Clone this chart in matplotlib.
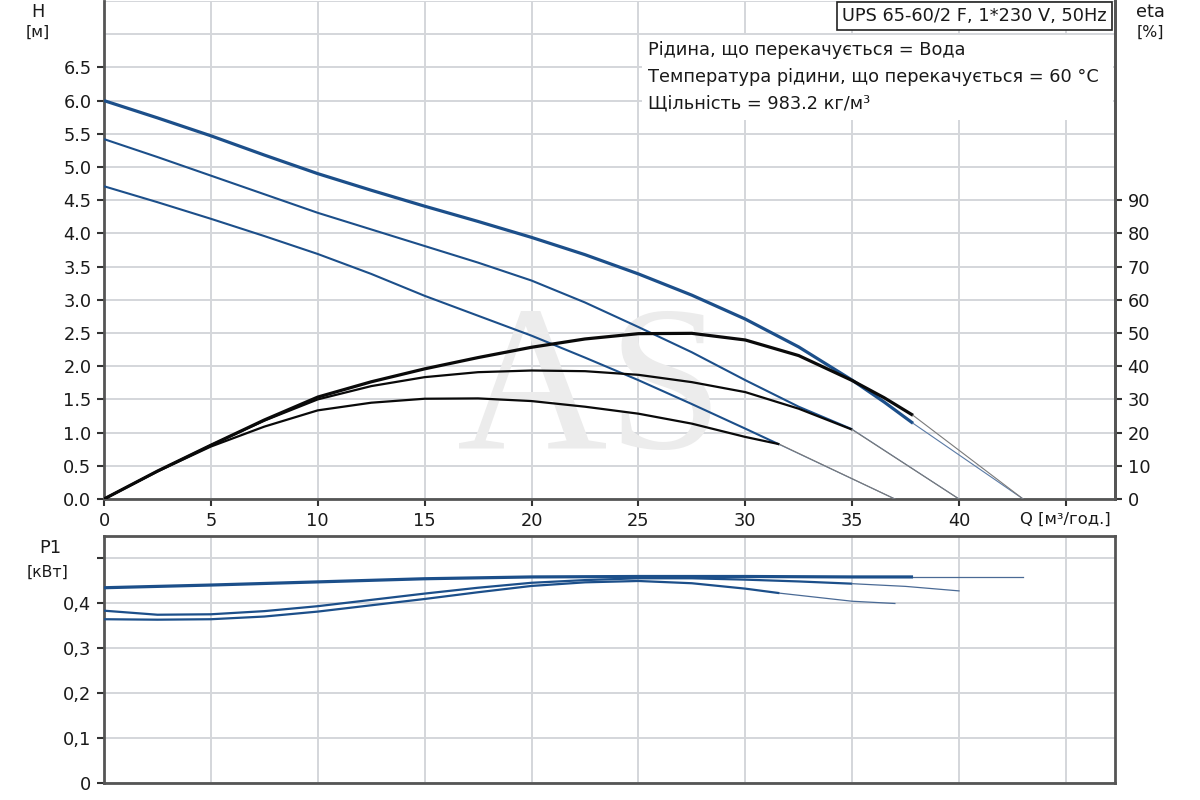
import matplotlib
matplotlib.use("Agg")
import matplotlib.pyplot as plt
from matplotlib.patches import Rectangle

plt.rcParams['font.family'] = ['DejaVu Sans']

# ---- data ----
q_h1 = [0, 2.5, 5, 7.5, 10, 12.5, 15, 17.5, 20, 22.5, 25, 27.5, 30, 32.5, 35, 36.5, 37.85]
h1 = [6.0, 5.74, 5.47, 5.18, 4.90, 4.65, 4.41, 4.18, 3.94, 3.68, 3.39, 3.07, 2.71, 2.29, 1.79, 1.46, 1.14]
q_h2 = [0, 2.5, 5, 7.5, 10, 12.5, 15, 17.5, 20, 22.5, 25, 27.5, 30, 32.5, 35]
h2 = [5.42, 5.15, 4.87, 4.59, 4.31, 4.06, 3.81, 3.56, 3.29, 2.96, 2.59, 2.21, 1.79, 1.39, 1.05]
q_h3 = [0, 2.5, 5, 7.5, 10, 12.5, 15, 17.5, 20, 22.5, 25, 27.5, 30, 31.6]
h3 = [4.71, 4.47, 4.22, 3.96, 3.69, 3.39, 3.06, 2.76, 2.46, 2.13, 1.79, 1.43, 1.06, 0.82]

eta1 = [0, 8.4, 16.2, 23.8, 30.7, 35.3, 39.2, 42.6, 45.7, 48.2, 49.8, 49.9, 47.9, 43.2, 35.7, 30.5, 25.2]
eta2 = [0, 8.4, 16.2, 23.6, 30.0, 34.0, 36.7, 38.2, 38.7, 38.5, 37.4, 35.2, 32.2, 27.2, 20.9]
eta3 = [0, 8.3, 15.8, 21.8, 26.7, 29.0, 30.2, 30.3, 29.5, 27.8, 25.7, 22.7, 18.7, 16.5]

# end of the operating range -> zero head / zero efficiency
q_zero = [43.0, 40.0, 37.0]

# P1 (power)
q_p1 = [0, 5, 10, 15, 20, 25, 30, 35, 37.85]
p1 = [0.434, 0.440, 0.447, 0.454, 0.458, 0.459, 0.459, 0.458, 0.458]
q_p2 = [0, 2.5, 5, 7.5, 10, 12.5, 15, 17.5, 20, 22.5, 25, 27.5, 30, 32.5, 35]
p2 = [0.383, 0.374, 0.375, 0.382, 0.393, 0.407, 0.421, 0.434, 0.445, 0.451, 0.455, 0.455, 0.452, 0.448, 0.443]
q_p3 = [0, 2.5, 5, 7.5, 10, 12.5, 15, 17.5, 20, 22.5, 25, 27.5, 30, 31.6]
p3 = [0.364, 0.363, 0.364, 0.370, 0.381, 0.395, 0.409, 0.424, 0.438, 0.446, 0.449, 0.444, 0.432, 0.422]
q_p1_ext = [37.85, 43.0]
p1_ext = [0.458, 0.458]
q_p2_ext = [35, 37.5, 40]
p2_ext = [0.443, 0.437, 0.427]
q_p3_ext = [31.6, 35, 37]
p3_ext = [0.422, 0.404, 0.399]

x_ticks = [0, 5, 10, 15, 20, 25, 30, 35, 40, 45]
x_labels = ['0', '5', '10', '15', '20', '25', '30', '35', '40', 'Q [м³/год.]']
h_ticks = [0, 0.5, 1.0, 1.5, 2.0, 2.5, 3.0, 3.5, 4.0, 4.5, 5.0, 5.5, 6.0, 6.5]
eta_ticks = [0, 10, 20, 30, 40, 50, 60, 70, 80, 90]
p_ticks = [0, 0.1, 0.2, 0.3, 0.4, 0.5]
p_labels = ['0', '0,1', '0,2', '0,3', '0,4', '']

info_lines = ['Рідина, що перекачується = Вода',
              'Температура рідини, що перекачується = 60 °C',
              'Щільність = 983.2 кг/м³']
title = 'UPS 65-60/2 F, 1*230 V, 50Hz'

BLUE = '#1c4f8a'
GRID = '#d4d6da'
SPINE = '#555555'
FS = 12.8
TXT = '#1a1a1a'

W, H = 1200, 800
fig = plt.figure(figsize=(12, 8), dpi=100)
fig.patch.set_facecolor('white')

x0, x1 = 104, 1115
ax = fig.add_axes([x0 / W, 1 - 499 / H, (x1 - x0) / W, 498 / H])
axb = fig.add_axes([x0 / W, 1 - 783 / H, (x1 - x0) / W, (783 - 536) / H])

xmax = (x1 - x0) / 21.375

# ---- top panel ----
ax.set_xlim(0, xmax)
ax.set_ylim(0, 7.5)
ax.set_xticks(x_ticks)
ax.set_xticklabels(x_labels)
ax.set_yticks(h_ticks)
ax.set_yticklabels([f'{v:.1f}' for v in h_ticks])
ax.grid(True, color=GRID, lw=1.4)
for yy in (7.0, 7.5):
    ax.axhline(yy, color=GRID, lw=1.4, zorder=0.5)
ax.set_axisbelow(True)
ax.tick_params(axis='both', direction='out', length=5, width=1.5, color='#333333',
               labelsize=FS, labelcolor=TXT, pad=4)
ax.get_xticklabels()[-1].set_fontsize(FS - 1)
for s in ['left', 'bottom', 'right']:
    ax.spines[s].set_color(SPINE)
    ax.spines[s].set_linewidth(2)
ax.spines['top'].set_visible(False)

ax2 = ax.twinx()
ax2.set_ylim(0, 150)
ax2.set_yticks(eta_ticks)
ax2.tick_params(axis='y', direction='out', length=5, width=1.5, color='#333333',
                labelsize=FS, labelcolor=TXT, pad=4)
for s in ['left', 'bottom', 'top']:
    ax2.spines[s].set_visible(False)
ax2.spines['right'].set_color(SPINE)
ax2.spines['right'].set_linewidth(2)

# watermark
ax.text(590 / W, 1 - 398 / H, 'AS', transform=fig.transFigure, ha='center', va='center',
        fontsize=150, family='Liberation Serif', color='#ececec', zorder=1)

# head curves
heads = [(q_h1, h1, 2.3), (q_h2, h2, 1.5), (q_h3, h3, 1.5)]
for (qq, hh, lw), qz in zip(heads, q_zero):
    ax.plot(qq, hh, color=BLUE, lw=lw, zorder=3, solid_capstyle='butt', solid_joinstyle='round')
    ax.plot([qq[-1], qz], [hh[-1], 0], color='#5a7aa5', lw=0.8, zorder=3)

# efficiency curves
etas = [(q_h1, eta1, 2.3), (q_h2, eta2, 1.6), (q_h3, eta3, 1.6)]
for (qq, ee, lw), qz in zip(etas, q_zero):
    ax2.plot(qq, ee, color='#0a0a0a', lw=lw, zorder=3, solid_capstyle='butt', solid_joinstyle='round')
    ax2.plot([qq[-1], qz], [ee[-1], 0], color='#7a7a7a', lw=0.8, zorder=3)

# info text block
ax.add_patch(Rectangle((642 / W, 1 - 120 / H), (x1 - 642 - 2) / W, 85 / H,
                       transform=fig.transFigure, facecolor='white', edgecolor='none', zorder=2))
for i, line in enumerate(info_lines):
    fig.text(648 / W, 1 - (50 + 26.5 * i) / H, line, ha='left', va='center',
             fontsize=FS, color=TXT)
fig.text(1107 / W, 1 - 16 / H, title, ha='right', va='center', fontsize=FS, color=TXT,
         bbox=dict(boxstyle='square,pad=0.3', facecolor='white', edgecolor='#222222', lw=1.2))

fig.text(38 / W, 1 - 12 / H, 'H', ha='center', va='center', fontsize=FS, color=TXT)
fig.text(38 / W, 1 - 32 / H, '[м]', ha='center', va='center', fontsize=FS - 1.5, color=TXT)
fig.text(1150 / W, 1 - 12 / H, 'eta', ha='center', va='center', fontsize=FS, color=TXT)
fig.text(1150 / W, 1 - 32 / H, '[%]', ha='center', va='center', fontsize=FS - 1.5, color=TXT)

# ---- bottom panel ----
axb.set_xlim(0, xmax)
axb.set_ylim(0, 0.549)
axb.set_xticks(x_ticks)
axb.set_xticklabels([])
axb.tick_params(axis='x', length=0)
axb.set_yticks(p_ticks)
axb.set_yticklabels(p_labels)
axb.tick_params(axis='y', direction='out', length=5, width=1.5, color='#333333',
                labelsize=FS, labelcolor=TXT, pad=4)
axb.grid(True, color=GRID, lw=1.4)
axb.set_axisbelow(True)
for s in axb.spines.values():
    s.set_color(SPINE)
    s.set_linewidth(2)

axb.plot(q_p1, p1, color=BLUE, lw=2.3, zorder=3, solid_capstyle='butt')
axb.plot(q_p2, p2, color=BLUE, lw=1.6, zorder=3, solid_capstyle='butt')
axb.plot(q_p3, p3, color=BLUE, lw=1.6, zorder=3, solid_capstyle='butt')
axb.plot(q_p1_ext, p1_ext, color='#4a6a95', lw=0.9, zorder=3)
axb.plot(q_p2_ext, p2_ext, color='#4a6a95', lw=0.9, zorder=3)
axb.plot(q_p3_ext, p3_ext, color='#4a6a95', lw=0.9, zorder=3)

fig.text(50 / W, 1 - 548 / H, 'P1', ha='center', va='center', fontsize=FS, color=TXT)
fig.text(48 / W, 1 - 572 / H, '[кВт]', ha='center', va='center', fontsize=FS - 1.5, color=TXT)

fig.savefig('out.png', dpi=100, facecolor='white')
